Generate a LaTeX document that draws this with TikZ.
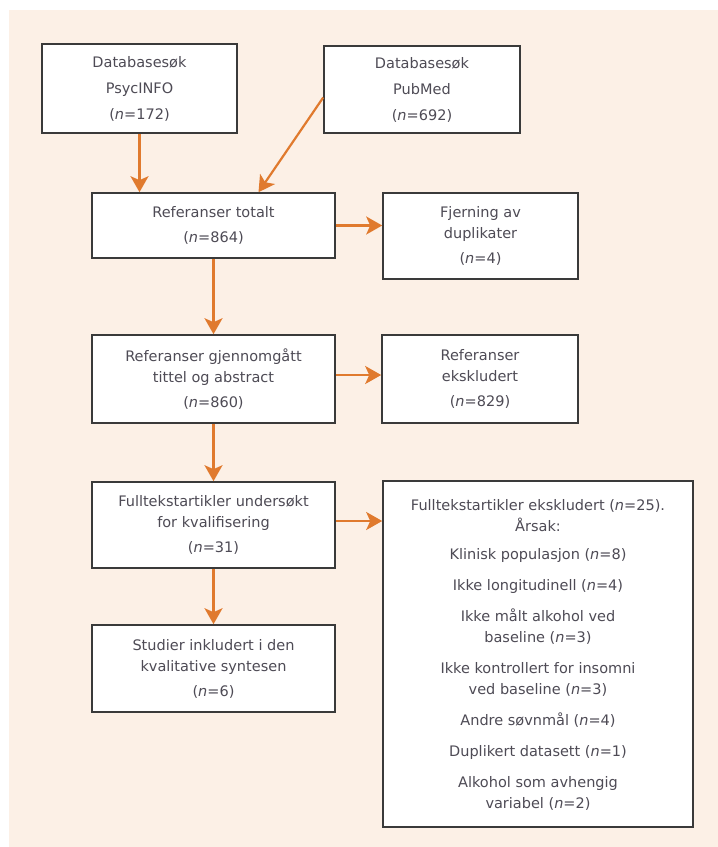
\documentclass[tikz,border=0pt]{standalone}
\usepackage{fontspec}
\setmainfont{DejaVu Sans}
\usepackage{tikz}
\usetikzlibrary{arrows.meta,calc,positioning}
\definecolor{flowgray}{HTML}{3A3A3A}
\definecolor{textgray}{HTML}{4E4B55}
\definecolor{floworange}{HTML}{E07A2E}
\definecolor{beige}{HTML}{FCF0E6}
\newcommand{\nn}[1]{(\textit{n}=#1)}

\begin{document}
\begin{tikzpicture}[x=1pt,y=-1pt,
    box/.style={draw=flowgray, line width=1.6pt, fill=white, align=center,
      text=textgray, inner sep=0pt, font=\fontsize{14.5}{21}\selectfont},
    flow/.style={-{Stealth[length=16pt,width=18pt,inset=4pt]}, floworange, line width=2.2pt}]
        % Page and background
        \useasboundingbox (0,0) rectangle (718,847);
        \fill[beige] (9,10) rectangle (718,847);
        % Database searches
        \node[box, minimum width=195pt, minimum height=89pt] (psyc) at (139.5,88.5)
          {Databasesøk\\[5pt] PsycINFO\\[5pt] \nn{172}};
        \node[box, minimum width=196pt, minimum height=87pt] (pubmed) at (422,89.5)
          {Databasesøk\\[5pt] PubMed\\[5pt] \nn{692}};
        % Left column
        \node[box, minimum width=243pt, minimum height=65pt] (totalt) at (213.5,225.5)
          {Referanser totalt\\[4pt] \nn{864}};
        \node[box, minimum width=243pt, minimum height=88pt] (screen) at (213.5,379)
          {Referanser gjennomgått\\ tittel og abstract\\[4pt] \nn{860}};
        \node[box, minimum width=243pt, minimum height=86pt] (fulltext) at (213.5,525)
          {Fulltekstartikler undersøkt\\ for kvalifisering\\[4pt] \nn{31}};
        \node[box, minimum width=243pt, minimum height=87pt] (included) at (213.5,668.5)
          {Studier inkludert i den\\ kvalitative syntesen\\[4pt] \nn{6}};
        % Right column
        \node[box, minimum width=195pt, minimum height=86pt] (dupl) at (480.5,236)
          {Fjerning av\\ duplikater\\[4pt] \nn{4}};
        \node[box, minimum width=196pt, minimum height=88pt] (excl) at (480,379)
          {Referanser\\ ekskludert\\[4pt] \nn{829}};
        \node[box, minimum width=310pt, minimum height=346pt, text depth=0pt] (reasons) at (538,654)
          {Fulltekstartikler ekskludert \nn{25}.\\ Årsak:\\[7pt]
           Klinisk populasjon \nn{8}\\[10pt]
           Ikke longitudinell \nn{4}\\[10pt]
           Ikke målt alkohol ved\\ baseline \nn{3}\\[10pt]
           Ikke kontrollert for insomni\\ ved baseline \nn{3}\\[10pt]
           Andre søvnmål \nn{4}\\[10pt]
           Duplikert datasett \nn{1}\\[10pt]
           Alkohol som avhengig\\ variabel \nn{2}};
        % Arrows
        \draw[flow] (psyc.south) -- (psyc.south |- totalt.north);
        \draw[flow] ([yshift=-8pt]pubmed.west) -- ([xshift=45pt]totalt.north);
        \draw[flow] (totalt.east) -- (totalt.east -| dupl.west);
        \draw[flow] (totalt.south) -- (screen.north);
        \draw[flow] ([yshift=4pt]screen.east) -- ([yshift=4pt]excl.west);
        \draw[flow] (screen.south) -- (fulltext.north);
        \draw[flow] ([yshift=4pt]fulltext.east) -- ([yshift=4pt]fulltext.east -| reasons.west);
        \draw[flow] (fulltext.south) -- (included.north);
      \end{tikzpicture}
\end{document}
